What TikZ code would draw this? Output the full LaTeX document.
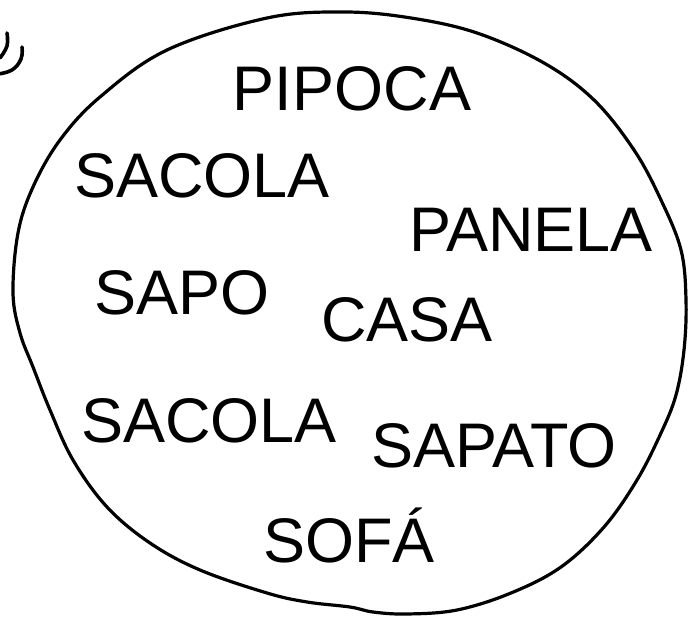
\documentclass[tikz,border=0pt]{standalone}
\usepackage{fontspec}
\setmainfont{Liberation Sans}
\begin{document}
\begin{tikzpicture}[x=1pt,y=-1pt,
  word/.style={anchor=base,inner sep=0pt,font=\fontsize{63}{70}\selectfont},
  outline/.style={draw=black,line width=3.2pt,line join=round},
  arcmark/.style={draw=black,line width=3.6pt,line cap=round}]
\useasboundingbox (0,0) rectangle (688,617);
\draw[outline] plot[smooth cycle,tension=0.6] coordinates{
 (344,12) (411,18) (477,33) (544,63) (594,100) (634,150) (661,200) (681,250)
 (686,300) (684,350) (676,395) (661,433) (637,480) (604,527) (561,567) (511,593)
 (457,610) (407,614) (373,612) (350,607) (307,602) (267,593) (200,570) (150,543)
 (107,507) (73,460) (50,410) (33,367) (20,333) (13,293) (18,233) (33,187)
 (60,140) (100,97) (167,50) (267,18)};
\draw[arcmark] plot[smooth,tension=0.7] coordinates{(7,33) (7,46) (0,58)};
\draw[arcmark] plot[smooth,tension=0.7] coordinates{(22,47) (21,59) (12,70) (-2,74)};
\node[word] (pipoca) at (352,111) {PIPOCA};
\node[word] (sacolaA) at (202,198) {SACOLA};
\node[word] (panela) at (531,252) {PANELA};
\node[word] (sapo) at (182,315) {SAPO};
\node[word] (casa) at (407,342) {CASA};
\node[word] (sacolaB) at (209,442) {SACOLA};
\node[word] (sapato) at (494,467) {SAPATO};
\node[word] (sofa) at (349,562) {SOFÁ};
\end{tikzpicture}
\end{document}
